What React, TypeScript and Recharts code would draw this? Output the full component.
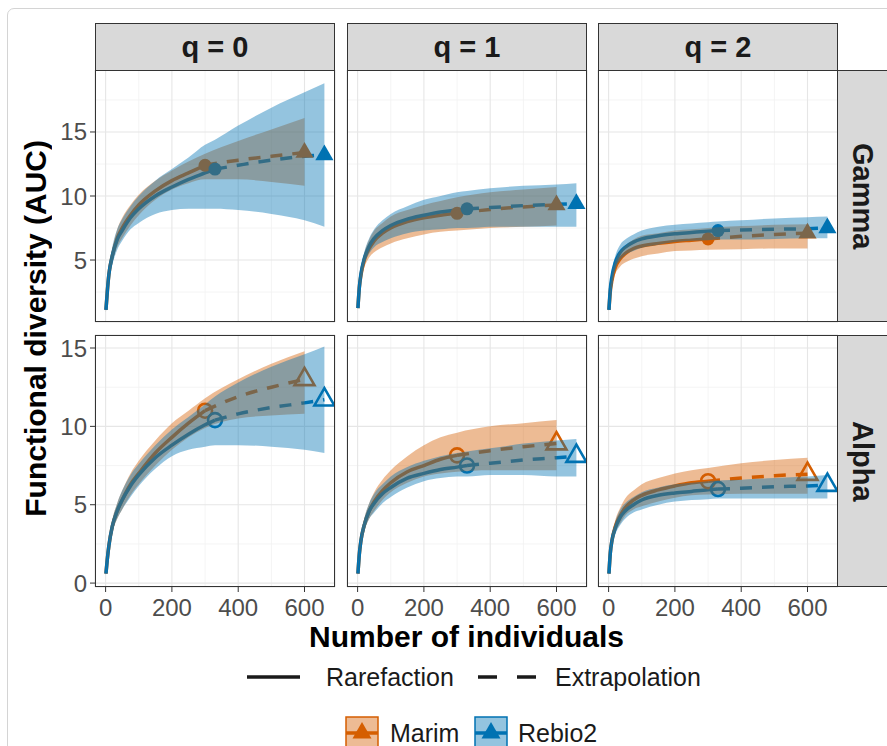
import React from 'react';
import { ComposedChart, Line, Area, Scatter, XAxis, YAxis, CartesianGrid } from 'recharts';

const FONT = '"Liberation Sans", Arial, Helvetica, sans-serif';
const MARIM_COLOR = '#D55E00';
const REBIO_COLOR = '#0072B2';
const BAND_OPACITY = 0.42;

// number of individuals where each curve is sampled
const X_MARIM = [1, 5, 10, 20, 35, 50, 75, 100, 150, 200, 250, 300, 400, 500, 600];
const X_REBIO = [1, 5, 10, 20, 35, 50, 75, 100, 150, 200, 250, 300, 330, 400, 500, 600, 660];
const MARIM_OBS = 300;
const REBIO_OBS = 330;

const Q_LABELS = ['q = 0', 'q = 1', 'q = 2'];
const ROW_LABELS = ['Gamma', 'Alpha'];

const X_TICKS = [0, 200, 400, 600];
const X_MINOR = [100, 300, 500];
const GAMMA_TICKS = [5, 10, 15];
const GAMMA_MINOR = [2.5, 7.5, 12.5, 17.5];
const ALPHA_TICKS = [0, 5, 10, 15];
const ALPHA_MINOR = [2.5, 7.5, 12.5];

// Gamma, q = 0
const g0Marim = [1.1, 2.5, 3.9, 5.3, 6.7, 7.5, 8.5, 9.3, 10.4, 11.2, 11.8, 12.4, 12.8, 13.1, 13.4];
const g0MarimLo = [0.9, 2.2, 3.5, 4.8, 6.0, 6.7, 7.7, 8.5, 9.7, 10.5, 11.0, 11.3, 11.3, 11.1, 10.8];
const g0MarimHi = [1.3, 2.8, 4.3, 5.8, 7.4, 8.3, 9.3, 10.1, 11.2, 12.0, 12.7, 13.3, 14.3, 15.2, 16.1];
const g0Rebio = [1.1, 2.5, 3.9, 5.3, 6.6, 7.3, 8.3, 9.0, 10.0, 10.7, 11.3, 11.8, 12.1, 12.4, 12.8, 13.1, 13.2];
const g0RebioLo = [0.9, 2.1, 3.4, 4.6, 5.8, 6.5, 7.4, 7.9, 8.6, 8.9, 9.0, 9.0, 9.0, 8.9, 8.6, 8.1, 7.6];
const g0RebioHi = [1.3, 2.9, 4.4, 6.0, 7.4, 8.2, 9.2, 10.0, 11.2, 12.1, 13.0, 14.0, 14.4, 15.5, 16.9, 18.1, 18.8];

// Gamma, q = 1
const g1Marim = [1.25, 2.8, 3.8, 5.0, 5.9, 6.5, 7.1, 7.5, 8.0, 8.3, 8.5, 8.65, 8.95, 9.15, 9.3];
const g1MarimLo = [1.1, 2.5, 3.4, 4.4, 5.2, 5.6, 6.0, 6.3, 6.7, 7.0, 7.2, 7.3, 7.5, 7.6, 7.7];
const g1MarimHi = [1.4, 3.1, 4.2, 5.5, 6.6, 7.3, 7.9, 8.4, 8.9, 9.3, 9.6, 9.9, 10.3, 10.5, 10.7];
const g1Rebio = [1.25, 2.8, 3.9, 5.1, 6.1, 6.7, 7.3, 7.7, 8.2, 8.5, 8.75, 8.9, 9.0, 9.1, 9.25, 9.35, 9.4];
const g1RebioLo = [1.1, 2.5, 3.5, 4.6, 5.5, 6.0, 6.4, 6.7, 7.1, 7.3, 7.4, 7.5, 7.5, 7.6, 7.6, 7.6, 7.6];
const g1RebioHi = [1.4, 3.1, 4.3, 5.6, 6.7, 7.4, 8.1, 8.6, 9.2, 9.7, 10.0, 10.3, 10.4, 10.6, 10.8, 10.9, 11.0];

// Gamma, q = 2
const g2Marim = [1.1, 2.5, 3.4, 4.4, 5.1, 5.5, 5.9, 6.1, 6.3, 6.45, 6.55, 6.65, 6.85, 7.0, 7.1];
const g2MarimLo = [0.95, 2.2, 3.0, 3.9, 4.5, 4.8, 5.1, 5.3, 5.5, 5.7, 5.75, 5.8, 5.85, 5.9, 5.9];
const g2MarimHi = [1.25, 2.8, 3.8, 4.9, 5.7, 6.1, 6.6, 6.9, 7.1, 7.3, 7.4, 7.5, 7.65, 7.75, 7.8];
const g2Rebio = [1.1, 2.7, 3.7, 4.8, 5.6, 6.0, 6.4, 6.65, 6.9, 7.05, 7.15, 7.25, 7.3, 7.35, 7.4, 7.45, 7.5];
const g2RebioLo = [0.95, 2.4, 3.3, 4.3, 5.0, 5.4, 5.7, 5.95, 6.2, 6.4, 6.5, 6.55, 6.6, 6.6, 6.65, 6.7, 6.7];
const g2RebioHi = [1.25, 3.0, 4.1, 5.3, 6.2, 6.6, 7.0, 7.3, 7.6, 7.75, 7.85, 7.95, 8.0, 8.1, 8.25, 8.35, 8.4];

// Alpha, q = 0
const a0Marim = [0.6, 1.5, 2.4, 3.6, 4.6, 5.3, 6.3, 7.0, 8.3, 9.3, 10.2, 11.0, 11.9, 12.5, 13.0];
const a0MarimLo = [0.5, 1.3, 2.1, 3.2, 4.1, 4.7, 5.6, 6.3, 7.5, 8.5, 9.3, 9.9, 10.5, 10.7, 10.8];
const a0MarimHi = [0.7, 1.7, 2.7, 4.0, 5.1, 5.9, 7.0, 7.8, 9.1, 10.2, 11.0, 11.8, 13.0, 14.0, 14.8];
const a0Rebio = [0.6, 1.5, 2.4, 3.6, 4.6, 5.3, 6.2, 6.9, 8.0, 8.8, 9.5, 10.1, 10.4, 10.8, 11.2, 11.5, 11.7];
const a0RebioLo = [0.5, 1.3, 2.1, 3.2, 4.1, 4.7, 5.5, 6.2, 7.3, 8.1, 8.5, 8.7, 8.8, 8.8, 8.7, 8.5, 8.3];
const a0RebioHi = [0.7, 1.7, 2.7, 4.0, 5.1, 5.9, 6.9, 7.6, 8.8, 9.8, 10.6, 11.4, 11.9, 12.8, 13.8, 14.6, 15.1];

// Alpha, q = 1
const a1Marim = [0.6, 1.8, 2.7, 3.7, 4.6, 5.2, 5.9, 6.4, 7.1, 7.5, 7.9, 8.15, 8.45, 8.7, 8.9];
const a1MarimLo = [0.5, 1.6, 2.4, 3.3, 4.1, 4.6, 5.3, 5.8, 6.4, 6.8, 7.0, 7.1, 7.2, 7.2, 7.2];
const a1MarimHi = [0.7, 2.0, 3.0, 4.1, 5.1, 5.8, 6.6, 7.2, 8.1, 8.8, 9.3, 9.6, 10.0, 10.2, 10.4];
const a1Rebio = [0.6, 1.8, 2.7, 3.7, 4.6, 5.1, 5.7, 6.1, 6.7, 7.0, 7.25, 7.4, 7.5, 7.65, 7.85, 8.0, 8.1];
const a1RebioLo = [0.5, 1.6, 2.4, 3.3, 4.1, 4.5, 5.1, 5.5, 6.1, 6.5, 6.7, 6.8, 6.8, 6.9, 6.9, 6.8, 6.8];
const a1RebioHi = [0.7, 2.0, 3.0, 4.1, 5.1, 5.7, 6.3, 6.8, 7.4, 7.8, 8.1, 8.3, 8.4, 8.6, 8.9, 9.1, 9.2];

// Alpha, q = 2
const a2Marim = [0.6, 1.9, 2.7, 3.6, 4.3, 4.8, 5.3, 5.6, 5.95, 6.2, 6.4, 6.5, 6.7, 6.85, 6.95];
const a2MarimLo = [0.5, 1.7, 2.4, 3.2, 3.8, 4.3, 4.7, 4.9, 5.2, 5.45, 5.6, 5.65, 5.7, 5.7, 5.7];
const a2MarimHi = [0.7, 2.1, 3.0, 4.0, 4.8, 5.4, 5.9, 6.3, 6.7, 7.0, 7.2, 7.35, 7.65, 7.85, 8.0];
const a2Rebio = [0.6, 1.9, 2.7, 3.5, 4.2, 4.6, 5.0, 5.3, 5.6, 5.75, 5.85, 5.95, 6.0, 6.05, 6.15, 6.2, 6.25];
const a2RebioLo = [0.5, 1.7, 2.4, 3.1, 3.7, 4.1, 4.5, 4.7, 5.0, 5.2, 5.3, 5.35, 5.4, 5.4, 5.4, 5.4, 5.4];
const a2RebioHi = [0.7, 2.1, 3.0, 3.9, 4.7, 5.1, 5.5, 5.8, 6.1, 6.3, 6.4, 6.5, 6.55, 6.6, 6.7, 6.8, 6.9];

const FACETS = [
  [
    { marim: [g0Marim, g0MarimLo, g0MarimHi], rebio: [g0Rebio, g0RebioLo, g0RebioHi] },
    { marim: [g1Marim, g1MarimLo, g1MarimHi], rebio: [g1Rebio, g1RebioLo, g1RebioHi] },
    { marim: [g2Marim, g2MarimLo, g2MarimHi], rebio: [g2Rebio, g2RebioLo, g2RebioHi] },
  ],
  [
    { marim: [a0Marim, a0MarimLo, a0MarimHi], rebio: [a0Rebio, a0RebioLo, a0RebioHi] },
    { marim: [a1Marim, a1MarimLo, a1MarimHi], rebio: [a1Rebio, a1RebioLo, a1RebioHi] },
    { marim: [a2Marim, a2MarimLo, a2MarimHi], rebio: [a2Rebio, a2RebioLo, a2RebioHi] },
  ],
];

// layout (page pixels)
const COL_LEFT = [95, 347, 598];
const ROW_TOP = [70, 335];
const PANEL_W = 240;
const PANEL_H = 252;
const X_DOMAIN = [-32, 692];
const Y_DOMAINS = [[0.16, 19.84], [-0.25, 15.83]];

const buildRows = (xs: number[], s: number[][]) =>
  xs.map((x, i) => ({ x, y: s[0][i], band: [s[1][i], s[2][i]] }));

const makeShape = (color: string, open: boolean) => (p: any) => {
  const { cx, cy } = p;
  if (cx == null || cy == null) return <g />;
  const kind = p.payload?.kind;
  if (kind === 'obs') {
    return open
      ? <circle cx={cx} cy={cy} r={7} fill="none" stroke={color} strokeWidth={2.6} />
      : <circle cx={cx} cy={cy} r={6.5} fill={color} />;
  }
  const r = open ? 11.5 : 10.5;
  const pts = `${cx},${cy - r} ${cx - r * 0.866},${cy + r / 2} ${cx + r * 0.866},${cy + r / 2}`;
  return open
    ? <polygon points={pts} fill="none" stroke={color} strokeWidth={2.6} strokeLinejoin="miter" />
    : <polygon points={pts} fill={color} />;
};

const tickStyle = { fontSize: 24, fill: '#4D4D4D', fontFamily: FONT };

const Panel = ({ row, col }: { row: number; col: number }) => {
  const facet = FACETS[row][col];
  const open = row === 1;
  const mRows = buildRows(X_MARIM, facet.marim);
  const rRows = buildRows(X_REBIO, facet.rebio);
  const mObs = X_MARIM.indexOf(MARIM_OBS);
  const rObs = X_REBIO.indexOf(REBIO_OBS);
  const mPts = [{ ...mRows[mObs], kind: 'obs' }, { ...mRows[mRows.length - 1], kind: 'end' }];
  const rPts = [{ ...rRows[rObs], kind: 'obs' }, { ...rRows[rRows.length - 1], kind: 'end' }];

  const padL = 60, padT = 10, padR = 10, padB = 40;
  const yDomain = Y_DOMAINS[row];
  const yTicks = row === 0 ? GAMMA_TICKS : ALPHA_TICKS;
  const yMinor = row === 0 ? GAMMA_MINOR : ALPHA_MINOR;

  return (
    <div style={{ position: 'absolute', left: COL_LEFT[col] - padL, top: ROW_TOP[row] - padT }}>
      <ComposedChart
        width={PANEL_W + padL + padR}
        height={PANEL_H + padT + padB}
        margin={{ top: padT, right: padR, left: col === 0 ? 0 : padL, bottom: row === 1 ? 0 : padB }}
      >
        <CartesianGrid xAxisId="minor" yAxisId="minor" stroke="#F1F1F1" strokeWidth={0.8} />
        <CartesianGrid stroke="#E6E6E6" strokeWidth={1.1} />
        <XAxis xAxisId="minor" type="number" dataKey="x" domain={X_DOMAIN} ticks={X_MINOR} hide allowDataOverflow />
        <YAxis yAxisId="minor" type="number" domain={yDomain} ticks={yMinor} hide allowDataOverflow />
        <XAxis
          type="number"
          dataKey="x"
          domain={X_DOMAIN}
          ticks={X_TICKS}
          allowDataOverflow
          hide={row === 0}
          height={padB}
          axisLine={false}
          tickLine={{ stroke: '#333333', strokeWidth: 1 }}
          tickSize={5}
          tickMargin={7}
          tick={tickStyle}
          interval={0}
        />
        <YAxis
          type="number"
          domain={yDomain}
          ticks={yTicks}
          allowDataOverflow
          hide={col !== 0}
          width={padL}
          axisLine={false}
          tickLine={{ stroke: '#333333', strokeWidth: 1 }}
          tickSize={5}
          tickMargin={3}
          tick={tickStyle}
          interval={0}
        />
        <Line data={mRows.slice(0, mObs + 1)} dataKey="y" type="monotone" stroke={MARIM_COLOR} strokeWidth={3.5} dot={false} activeDot={false} isAnimationActive={false} />
        <Line data={mRows.slice(mObs)} dataKey="y" type="monotone" stroke={MARIM_COLOR} strokeWidth={3.5} strokeDasharray="12 10" dot={false} activeDot={false} isAnimationActive={false} />
        <Line data={rRows.slice(0, rObs + 1)} dataKey="y" type="monotone" stroke={REBIO_COLOR} strokeWidth={3.5} dot={false} activeDot={false} isAnimationActive={false} />
        <Line data={rRows.slice(rObs)} dataKey="y" type="monotone" stroke={REBIO_COLOR} strokeWidth={3.5} strokeDasharray="12 10" dot={false} activeDot={false} isAnimationActive={false} />
        <Scatter data={mPts} dataKey="y" shape={makeShape(MARIM_COLOR, open)} isAnimationActive={false} />
        <Scatter data={rPts} dataKey="y" shape={makeShape(REBIO_COLOR, open)} isAnimationActive={false} />
        <Area data={mRows} dataKey="band" type="monotone" stroke="none" fill={MARIM_COLOR} fillOpacity={BAND_OPACITY} dot={false} activeDot={false} isAnimationActive={false} zIndex={700} />
        <Area data={rRows} dataKey="band" type="monotone" stroke="none" fill={REBIO_COLOR} fillOpacity={BAND_OPACITY} dot={false} activeDot={false} isAnimationActive={false} zIndex={700} />
      </ComposedChart>
    </div>
  );
};

const LegendKey = ({ color }: { color: string }) => (
  <svg width={34} height={34} style={{ display: 'block' }}>
    <rect x={1} y={1} width={32} height={32} fill={color} fillOpacity={BAND_OPACITY} stroke={color} strokeWidth={1.5} />
    <line x1={1} y1={17} x2={33} y2={17} stroke={color} strokeWidth={3.5} />
    <polygon points="17,6 7.5,22.5 26.5,22.5" fill={color} />
  </svg>
);

export default function App() {
  const strip = { position: 'absolute' as const, background: '#D9D9D9', border: '1px solid #333333', boxSizing: 'border-box' as const, display: 'flex', alignItems: 'center', justifyContent: 'center', fontWeight: 700, fontSize: 29, color: '#1A1A1A' };
  return (
    <div style={{ position: 'absolute', left: 0, top: 0, width: 887, height: 746, overflow: 'hidden', background: '#fff', fontFamily: FONT }}>
      <div style={{ position: 'absolute', left: 7, top: 8, width: 920, height: 800, border: '1px solid #D4D4D4', borderRadius: 7 }} />

      {[0, 1].map(row => [0, 1, 2].map(col => <Panel key={`${row}-${col}`} row={row} col={col} />))}

      {[0, 1].map(row => [0, 1, 2].map(col => (
        <div key={`b${row}-${col}`} style={{ position: 'absolute', left: COL_LEFT[col], top: ROW_TOP[row], width: PANEL_W, height: PANEL_H, border: '1px solid #333333', boxSizing: 'border-box', pointerEvents: 'none' }} />
      )))}

      {Q_LABELS.map((q, col) => (
        <div key={q} style={{ ...strip, left: COL_LEFT[col], top: 23, width: PANEL_W, height: 48 }}>{q}</div>
      ))}
      {ROW_LABELS.map((r, row) => (
        <div key={r} style={{ ...strip, left: COL_LEFT[2] + PANEL_W - 1, top: ROW_TOP[row], width: 60, height: PANEL_H, justifyContent: 'flex-start' }}>
          <span style={{ writingMode: 'vertical-rl', width: 48, display: 'flex', alignItems: 'center', justifyContent: 'center' }}>{r}</span>
        </div>
      ))}

      <div style={{ position: 'absolute', left: 0, top: ROW_TOP[0], width: 72, height: ROW_TOP[1] + PANEL_H - ROW_TOP[0], display: 'flex', alignItems: 'center', justifyContent: 'center' }}>
        <span style={{ writingMode: 'vertical-rl', transform: 'rotate(180deg)', fontWeight: 700, fontSize: 30, color: '#000', whiteSpace: 'nowrap' }}>Functional diversity (AUC)</span>
      </div>

      <div style={{ position: 'absolute', left: COL_LEFT[0], top: 620, width: COL_LEFT[2] + PANEL_W - COL_LEFT[0], textAlign: 'center', fontWeight: 700, fontSize: 30, lineHeight: '34px', color: '#000' }}>
        Number of individuals
      </div>

      <svg style={{ position: 'absolute', left: 0, top: 660 }} width={887} height={40}>
        <line x1={247} y1={17} x2={300} y2={17} stroke="#1A1A1A" strokeWidth={3.5} />
        <line x1={478} y1={17} x2={536} y2={17} stroke="#1A1A1A" strokeWidth={3.5} strokeDasharray="19 20" />
      </svg>
      <div style={{ position: 'absolute', left: 326, top: 661, fontSize: 25, lineHeight: '32px', color: '#1A1A1A' }}>Rarefaction</div>
      <div style={{ position: 'absolute', left: 555, top: 661, fontSize: 25, lineHeight: '32px', color: '#1A1A1A' }}>Extrapolation</div>

      <div style={{ position: 'absolute', left: 345, top: 716 }}><LegendKey color={MARIM_COLOR} /></div>
      <div style={{ position: 'absolute', left: 390, top: 717, fontSize: 25, lineHeight: '32px', color: '#1A1A1A' }}>Marim</div>
      <div style={{ position: 'absolute', left: 474, top: 716 }}><LegendKey color={REBIO_COLOR} /></div>
      <div style={{ position: 'absolute', left: 518, top: 717, fontSize: 25, lineHeight: '32px', color: '#1A1A1A' }}>Rebio2</div>
    </div>
  );
}
